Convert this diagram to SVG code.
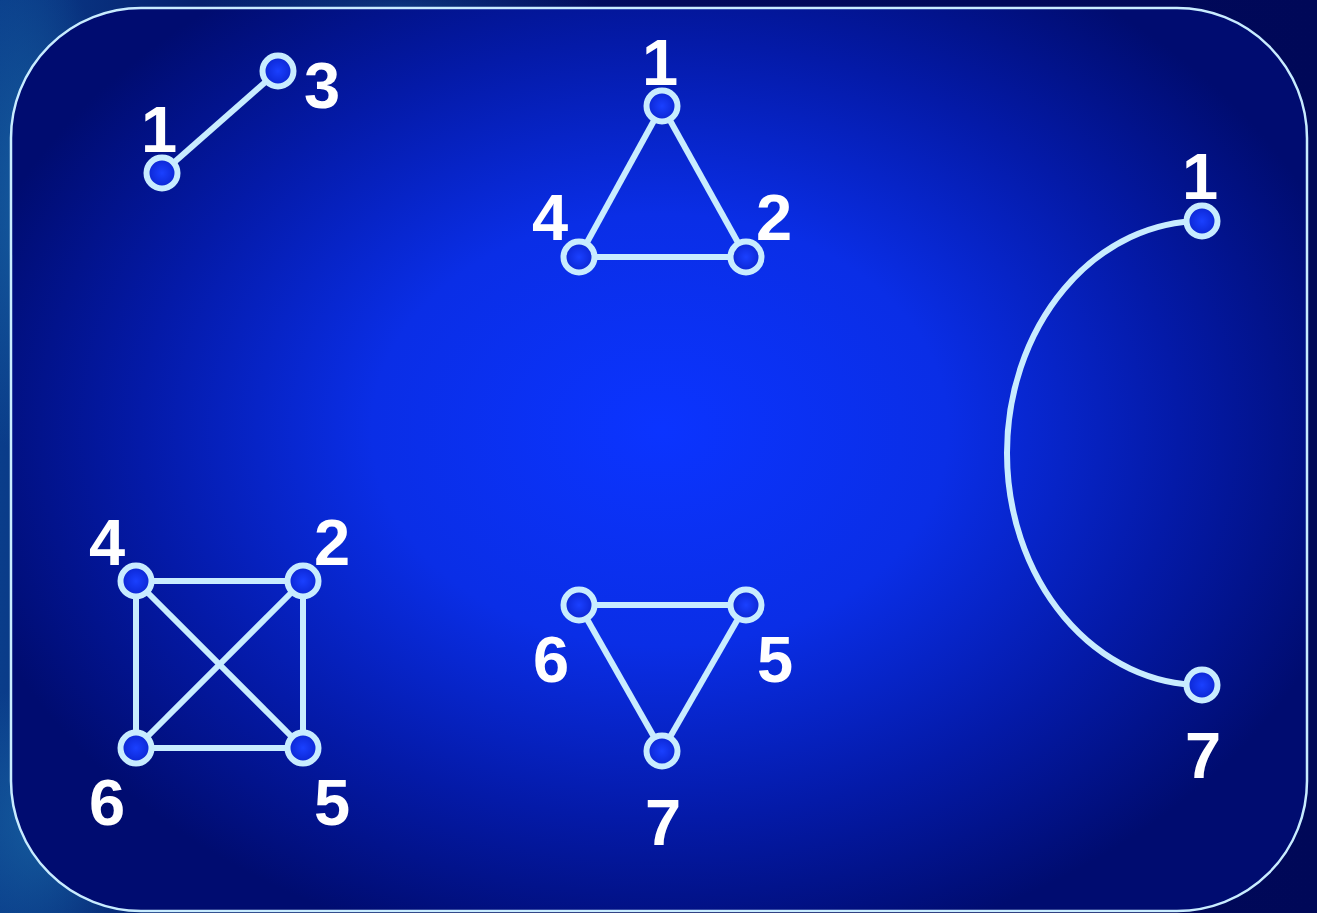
<svg xmlns="http://www.w3.org/2000/svg" width="1317" height="913" viewBox="0 0 1317 913">
  <defs>
    <linearGradient id="outerBg" x1="0" y1="0" x2="1" y2="0">
      <stop offset="0" stop-color="#0a3d8a"/>
      <stop offset="0.15" stop-color="#05206e"/>
      <stop offset="0.5" stop-color="#020a5c"/>
      <stop offset="1" stop-color="#000858"/>
    </linearGradient>
    <radialGradient id="teal1" cx="0.5" cy="0.5" r="0.5">
      <stop offset="0" stop-color="#1a6aa8" stop-opacity="0.7"/>
      <stop offset="1" stop-color="#1a6aa8" stop-opacity="0"/>
    </radialGradient>
    <radialGradient id="innerBg" cx="660" cy="430" r="720" gradientUnits="userSpaceOnUse" gradientTransform="translate(660 430) scale(1 0.75) translate(-660 -430)">
      <stop offset="0" stop-color="#0b34ff"/>
      <stop offset="0.4" stop-color="#0a2ee6"/>
      <stop offset="0.72" stop-color="#041aa8"/>
      <stop offset="1" stop-color="#000c70"/>
    </radialGradient>
    <radialGradient id="nodeFill" cx="0.5" cy="0.5" r="0.5">
      <stop offset="0" stop-color="#1a40ff"/>
      <stop offset="1" stop-color="#0a24d0"/>
    </radialGradient>
    <style>
      .edge { fill: none; stroke: #c8ecff; stroke-width: 6; }
      .node { fill: url(#nodeFill); stroke: #c8ecff; stroke-width: 6; }
      .lbl { font-family: "Liberation Sans", Arial, sans-serif; font-weight: bold; font-size: 65px; fill: #ffffff; text-anchor: middle; }
    </style>
  </defs>

  <g id="background">
    <rect x="0" y="0" width="1317" height="913" fill="url(#outerBg)"/>
    <ellipse cx="30" cy="200" rx="80" ry="260" fill="url(#teal1)"/>
    <ellipse cx="40" cy="820" rx="90" ry="140" fill="url(#teal1)"/>
    <ellipse cx="400" cy="5" rx="200" ry="20" fill="url(#teal1)" opacity="0.5"/>
    <rect x="11" y="8" width="1296" height="903" rx="130" ry="130" fill="url(#innerBg)" stroke="#c8ecff" stroke-width="2.5"/>
  </g>

  <g id="connectors">
    <line class="edge" x1="162" y1="173" x2="278" y2="71"/>
    <line class="edge" x1="662" y1="106" x2="579" y2="257"/>
    <line class="edge" x1="662" y1="106" x2="746" y2="257"/>
    <line class="edge" x1="579" y1="257" x2="746" y2="257"/>
    <line class="edge" x1="136" y1="581" x2="303" y2="581"/>
    <line class="edge" x1="136" y1="581" x2="136" y2="748"/>
    <line class="edge" x1="303" y1="581" x2="303" y2="748"/>
    <line class="edge" x1="136" y1="748" x2="303" y2="748"/>
    <line class="edge" x1="136" y1="581" x2="303" y2="748"/>
    <line class="edge" x1="303" y1="581" x2="136" y2="748"/>
    <line class="edge" x1="579" y1="605" x2="746" y2="605"/>
    <line class="edge" x1="579" y1="605" x2="662" y2="751"/>
    <line class="edge" x1="746" y1="605" x2="662" y2="751"/>
    <path class="edge" d="M1202,221 A195,232 0 0 0 1202,685"/>
  </g>

  <g id="gA-n1"><circle class="node" cx="162" cy="173" r="15.5"/><text class="lbl" x="159" y="152">1</text></g>
  <g id="gA-n3"><circle class="node" cx="278" cy="71" r="15.5"/><text class="lbl" x="322" y="108">3</text></g>

  <g id="gB-n1"><circle class="node" cx="662" cy="106" r="15.5"/><text class="lbl" x="660" y="85">1</text></g>
  <g id="gB-n4"><circle class="node" cx="579" cy="257" r="15.5"/><text class="lbl" x="550" y="240">4</text></g>
  <g id="gB-n2"><circle class="node" cx="746" cy="257" r="15.5"/><text class="lbl" x="774" y="240">2</text></g>

  <g id="gC-n4"><circle class="node" cx="136" cy="581" r="15.5"/><text class="lbl" x="107" y="565">4</text></g>
  <g id="gC-n2"><circle class="node" cx="303" cy="581" r="15.5"/><text class="lbl" x="332" y="565">2</text></g>
  <g id="gC-n6"><circle class="node" cx="136" cy="748" r="15.5"/><text class="lbl" x="107" y="825">6</text></g>
  <g id="gC-n5"><circle class="node" cx="303" cy="748" r="15.5"/><text class="lbl" x="332" y="825">5</text></g>

  <g id="gD-n6"><circle class="node" cx="579" cy="605" r="15.5"/><text class="lbl" x="551" y="682">6</text></g>
  <g id="gD-n5"><circle class="node" cx="746" cy="605" r="15.5"/><text class="lbl" x="775" y="682">5</text></g>
  <g id="gD-n7"><circle class="node" cx="662" cy="751" r="15.5"/><text class="lbl" x="663" y="845">7</text></g>

  <g id="gE-n1"><circle class="node" cx="1202" cy="221" r="15.5"/><text class="lbl" x="1200" y="199">1</text></g>
  <g id="gE-n7"><circle class="node" cx="1202" cy="685" r="15.5"/><text class="lbl" x="1203" y="778">7</text></g>
</svg>
